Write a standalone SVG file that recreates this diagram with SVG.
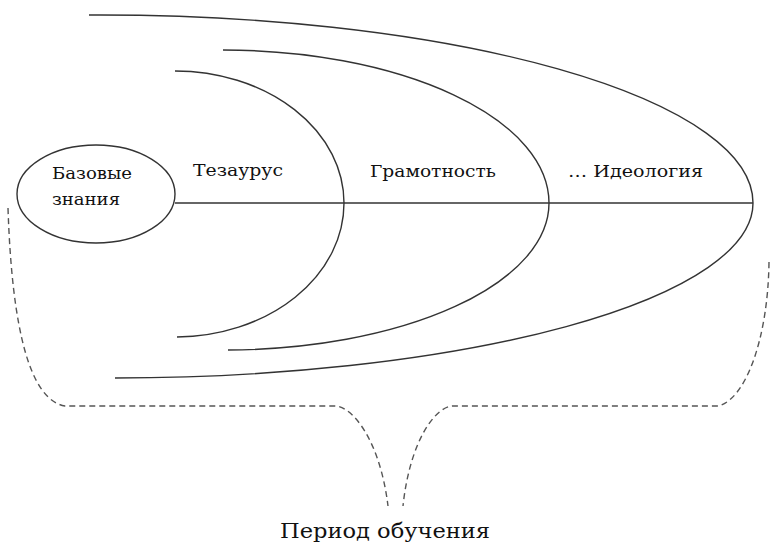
<svg xmlns="http://www.w3.org/2000/svg" width="770" height="545" viewBox="0 0 770 545">
<style>
.s{fill:none;stroke:#333;stroke-width:1.4}
.d{fill:none;stroke:#555;stroke-width:1.4;stroke-dasharray:6 4}
.t{font-family:"DejaVu Serif","Liberation Serif",serif;font-size:17px;fill:#111}
.tb{font-family:"DejaVu Serif","Liberation Serif",serif;font-size:21px;fill:#111}
</style>
<rect width="770" height="545" fill="#fff"/>
<g id="connectors">
<line class="s" x1="175" y1="203" x2="753" y2="203"/>
<path class="d" d="M8,208 C12,330 30,400 65,406 L335,406 C352,406 380,440 388,506"/>
<path class="d" d="M769,262 C768,340 745,400 718,406 L453,406 C436,406 410,440 403,506"/>
</g>
<g id="base">
<ellipse class="s" cx="96" cy="194" rx="79" ry="49" fill="#fff"/>
<text class="t" x="52" y="179" textLength="80" lengthAdjust="spacingAndGlyphs">Базовые</text>
<text class="t" x="52" y="205" textLength="68" lengthAdjust="spacingAndGlyphs">знания</text>
</g>
<g id="thesaurus">
<path class="s" d="M175,71 A169,132 0 0 1 344,203 A169,134 0 0 1 177,337"/>
<text class="t" x="193" y="176" textLength="90" lengthAdjust="spacingAndGlyphs">Тезаурус</text>
</g>
<g id="literacy">
<path class="s" d="M223,50 A326,153 0 0 1 549,203 A324,147 0 0 1 228,350"/>
<text class="t" x="370" y="177" textLength="126" lengthAdjust="spacingAndGlyphs">Грамотность</text>
</g>
<g id="ideology">
<path class="s" d="M89,15 A653,188 0 0 1 753,203 A640,175 0 0 1 115,378"/>
<text class="t" x="568" y="177" textLength="135" lengthAdjust="spacingAndGlyphs">… Идеология</text>
</g>
<g id="period">
<text class="tb" x="280" y="538" textLength="210" lengthAdjust="spacingAndGlyphs">Период обучения</text>
</g>
</svg>
